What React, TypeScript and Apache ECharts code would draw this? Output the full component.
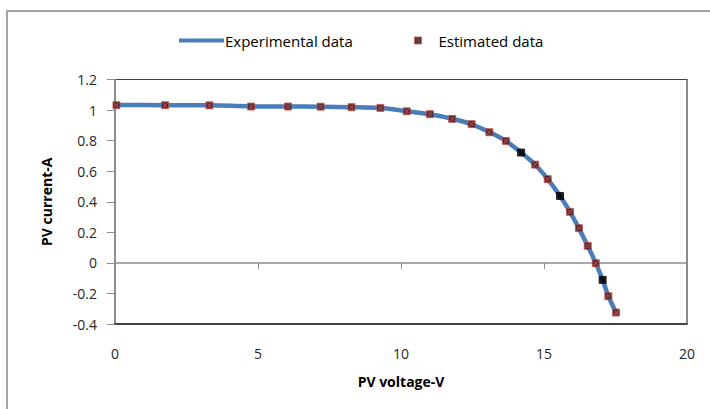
import React, { useEffect, useRef } from "react";
import * as echarts from "echarts";

// Estimated data (PV voltage in V, PV current in A)
const estVoltage = [0.05, 1.75, 3.3, 4.76, 6.05, 7.19, 8.27, 9.28, 10.2, 11.01, 11.79, 12.47, 13.09, 13.67, 14.2, 14.69, 15.13, 15.56, 15.91, 16.22, 16.53, 16.81, 17.05, 17.25, 17.52];
const estCurrent = [1.032, 1.032, 1.031, 1.023, 1.023, 1.022, 1.019, 1.014, 0.992, 0.973, 0.942, 0.908, 0.855, 0.798, 0.722, 0.643, 0.548, 0.438, 0.334, 0.227, 0.111, -0.002, -0.111, -0.218, -0.325];
const darkPointIdx = [14, 17, 22];

// Experimental data curve
const expVoltage = [0, 1.75, 3.3, 4.76, 6.05, 7.19, 8.27, 9.28, 10.2, 11.01, 11.79, 12.47, 13.09, 13.67, 14.2, 14.69, 15.13, 15.56, 15.91, 16.22, 16.53, 16.81, 17.05, 17.25, 17.52];
const expCurrent = [1.033, 1.032, 1.031, 1.024, 1.023, 1.022, 1.019, 1.013, 0.993, 0.972, 0.943, 0.907, 0.856, 0.797, 0.722, 0.642, 0.548, 0.438, 0.334, 0.226, 0.111, -0.002, -0.111, -0.218, -0.325];

const xAxisRange = [0, 20, 5];
const yAxisRange = [-0.4, 1.2, 0.2];
const legendNames = ["Experimental data", "Estimated data"];
const axisNames = ["PV voltage-V", "PV current-A"];

const FONT = "'Open Sans', 'Noto Sans', sans-serif";
const X_SHAPE =
  "path://M0,0.18L0.18,0L0.5,0.32L0.82,0L1,0.18L0.68,0.5L1,0.82L0.82,1L0.5,0.68L0.18,1L0,0.82L0.32,0.5Z";

export default function App() {
  const ref = useRef<HTMLDivElement>(null);
  useEffect(() => {
    if (!ref.current) return;
    const chart = echarts.init(ref.current, undefined, { renderer: "svg" });
    const expData = expVoltage.map((v, i) => [v, expCurrent[i]]);
    const estBase = estVoltage.map((v, i) => {
      const dark = darkPointIdx.includes(i);
      return {
        value: [v, estCurrent[i]],
        itemStyle: dark ? { color: "#000000", borderColor: "#000000" } : undefined,
      };
    });
    const estCross = estVoltage.map((v, i) => {
      const dark = darkPointIdx.includes(i);
      return {
        value: [v, estCurrent[i]],
        itemStyle: dark ? { color: "#000000" } : undefined,
      };
    });
    chart.setOption({
      animation: false,
      backgroundColor: "#ffffff",
      textStyle: { fontFamily: FONT },
      graphic: [
        {
          type: "rect",
          shape: { x: 7, y: 11, width: 800, height: 500 },
          style: { fill: "none", stroke: "#a6a6a6", lineWidth: 2 },
          silent: true,
        },
      ],
      legend: [
        {
          left: 174,
          top: 28,
          itemWidth: 45,
          itemHeight: 4,
          itemGap: 0,
          textStyle: { fontFamily: FONT, fontSize: 15, color: "#000000", padding: [0, 0, 0, -4] },
          data: [{ name: legendNames[0], icon: "rect", itemStyle: { color: "#4a7ebb" } }],
        },
        {
          left: 409,
          top: 28,
          itemWidth: 7,
          itemHeight: 7,
          textStyle: { fontFamily: FONT, fontSize: 15, color: "#000000", padding: [0, 0, 0, 12] },
          data: [
            {
              name: legendNames[1],
              icon: "rect",
              itemStyle: { color: "#3d0d0d", borderColor: "#c0504d", borderWidth: 1 },
            },
          ],
        },
      ],
      grid: {
        left: 115,
        right: 23,
        top: 79.5,
        bottom: 85,
        show: true,
        borderColor: "#404040",
        borderWidth: 1.2,
        backgroundColor: "transparent",
        containLabel: false,
      },
      xAxis: [
        {
          type: "value",
          position: "bottom",
          min: xAxisRange[0],
          max: xAxisRange[1],
          interval: xAxisRange[2],
          name: axisNames[0],
          nameLocation: "middle",
          nameGap: 50,
          nameTextStyle: { fontFamily: FONT, fontSize: 14, fontWeight: "bold", color: "#000000" },
          axisLine: { onZero: false, lineStyle: { color: "#262626", width: 1.5 } },
          axisTick: { show: false },
          axisLabel: { margin: 22, fontFamily: FONT, fontSize: 14, color: "#262626" },
          splitLine: { show: false },
        },
        {
          type: "value",
          position: "top",
          min: xAxisRange[0],
          max: xAxisRange[1],
          interval: xAxisRange[2],
          axisLine: { onZero: true, lineStyle: { color: "#8c8c8c", width: 1.5 } },
          axisTick: { show: true, inside: true, length: 6, lineStyle: { color: "#8c8c8c", width: 1 } },
          axisLabel: { show: false },
          splitLine: { show: false },
        },
      ],
      yAxis: {
        type: "value",
        min: yAxisRange[0],
        max: yAxisRange[1],
        interval: yAxisRange[2],
        name: axisNames[1],
        nameLocation: "middle",
        nameGap: 62,
        nameTextStyle: { fontFamily: FONT, fontSize: 14, fontWeight: "bold", color: "#000000" },
        axisLine: { show: true, lineStyle: { color: "#8c8c8c", width: 1.5 } },
        axisTick: { show: true, length: 8, lineStyle: { color: "#8c8c8c", width: 1 } },
        axisLabel: { margin: 18, fontFamily: FONT, fontSize: 14, color: "#262626" },
        splitLine: { show: false },
      },
      series: [
        {
          name: legendNames[0],
          type: "line",
          xAxisIndex: 0,
          data: expData,
          smooth: 0.3,
          showSymbol: false,
          symbol: "none",
          lineStyle: { color: "#4a7ebb", width: 4.5 },
          itemStyle: { color: "#4a7ebb" },
          z: 2,
        },
        {
          name: legendNames[1],
          type: "scatter",
          xAxisIndex: 0,
          data: estBase,
          symbol: "rect",
          symbolSize: 7,
          itemStyle: { color: "#3d0d0d", borderColor: "#c0504d", borderWidth: 1 },
          z: 3,
        },
        {
          name: legendNames[1],
          type: "scatter",
          xAxisIndex: 0,
          data: estCross,
          symbol: X_SHAPE,
          symbolSize: 5,
          itemStyle: { color: "#c0504d" },
          silent: true,
          z: 4,
        },
      ],
    });
    return () => chart.dispose();
  }, []);
  return (
    <div
      ref={ref}
      style={{ position: "fixed", left: 0, top: 0, width: 710, height: 409, background: "#fff" }}
    />
  );
}
